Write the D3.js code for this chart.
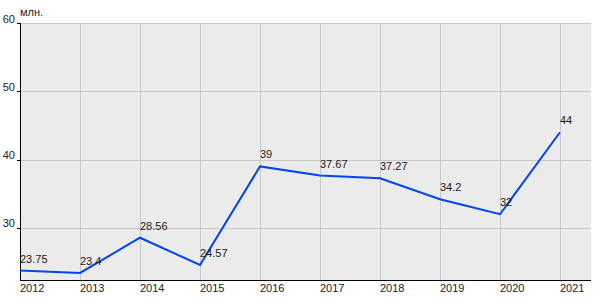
<!DOCTYPE html>
<html><head><meta charset="utf-8">
<script src="https://cdn.jsdelivr.net/npm/d3@7"></script>
<style>body{margin:0;background:#fff}svg{display:block}text{font-family:"Liberation Sans",Arial,sans-serif;font-size:11px;fill:#1a1a1a}</style>
</head><body>
<svg id="c" width="600" height="300"></svg>
<script>
const years = [2012,2013,2014,2015,2016,2017,2018,2019,2020,2021];
const values = [23.75,23.4,28.56,24.57,39,37.67,37.27,34.2,32,44];
const labels = ["23.75","23.4","28.56","24.57","39","37.67","37.27","34.2","32","44"];
const yTicks = [30,40,50,60];
const unit = "млн.";

const svg = d3.select("#c");
const L=20, R=591, T=23, B=280;
const x = d3.scaleLinear().domain([2012,2021]).range([L,560]);
const y = d3.scaleLinear().domain([22.37,60]).range([B,T]);

svg.append("rect").attr("x",L).attr("y",T).attr("width",R-L).attr("height",B-T).attr("fill","#ebebeb");
const g = svg.append("g");
g.selectAll(".vg").data(years).join("line")
  .attr("x1",d=>x(d)+0.5).attr("x2",d=>x(d)+0.5).attr("y1",T).attr("y2",B)
  .attr("stroke","#c8c8c8").attr("stroke-width",1);
g.selectAll(".hg").data(yTicks).join("line")
  .attr("x1",L).attr("x2",R).attr("y1",d=>Math.round(y(d))+0.5).attr("y2",d=>Math.round(y(d))+0.5)
  .attr("stroke","#c8c8c8").attr("stroke-width",1);

// axes
svg.append("line").attr("x1",L+0.5).attr("x2",L+0.5).attr("y1",T).attr("y2",B).attr("stroke","#000");
svg.append("line").attr("x1",L).attr("x2",R).attr("y1",B+0.5).attr("y2",B+0.5).attr("stroke","#000");
svg.selectAll(".yt").data(yTicks).join("line")
  .attr("x1",17).attr("x2",L).attr("y1",d=>Math.round(y(d))+0.5).attr("y2",d=>Math.round(y(d))+0.5).attr("stroke","#000");
svg.selectAll(".yl").data(yTicks).join("text")
  .attr("x",15).attr("y",d=>y(d)-0.5).attr("text-anchor","end").text(d=>d);
svg.selectAll(".xl").data(years).join("text")
  .attr("x",d=>x(d)).attr("y",292).text(d=>d);
svg.append("text").attr("x",20).attr("y",16).text(unit);

const line = d3.line().x((d,i)=>x(years[i])).y(d=>y(d));
svg.append("path").datum(values).attr("d",line).attr("fill","none")
  .attr("stroke","#0044ee").attr("stroke-width",2);
svg.selectAll(".dl").data(values).join("text")
  .attr("x",(d,i)=>x(years[i])).attr("y",d=>y(d)-8).text((d,i)=>labels[i]);
</script>
</body></html>
